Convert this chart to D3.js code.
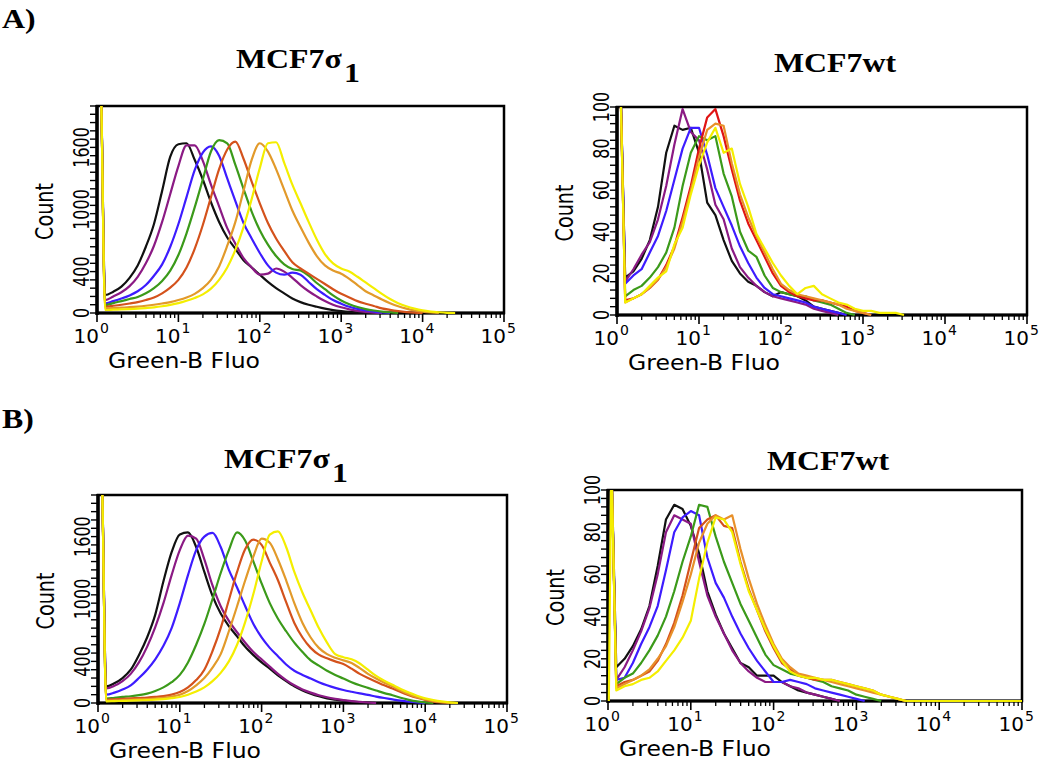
<!DOCTYPE html>
<html>
<head>
<meta charset="utf-8">
<script src="https://cdn.jsdelivr.net/npm/d3@7/dist/d3.min.js"></script>
<style>
  body { margin: 0; background: #fff; }
  svg { display: block; }
</style>
</head>
<body>
<svg id="fig" width="1050" height="763"></svg>
<script>
// log10 of Green-B fluorescence at each histogram bin
const logBins = [0.01, 0.04, 0.1, 0.2, 0.3, 0.4, 0.5, 0.6, 0.7, 0.8, 0.9, 1.0,
  1.1, 1.2, 1.3, 1.4, 1.5, 1.6, 1.7, 1.8, 1.9, 2.0, 2.1, 2.2, 2.3, 2.4, 2.5,
  2.6, 2.7, 2.8, 2.9, 3.0, 3.1, 3.2, 3.3, 3.4, 3.5, 3.6, 3.7, 3.8, 3.9, 4.0,
  4.1, 4.2, 4.3, 4.4, 4.5, 4.6, 4.7, 4.8, 4.9, 5.0];

const sigmaColors = ["#111111", "#8b1a84", "#3d1cff", "#3b9a1a", "#d4521c", "#e29a2a", "#f4ee00"];
const wtColorsA = ["#111111", "#8b1a84", "#3d1cff", "#3b9a1a", "#e01414", "#e8902a", "#f4ee00"];
const wtColorsB = ["#111111", "#8b1a84", "#3d1cff", "#3b9a1a", "#d4521c", "#e8902a", "#f4ee00"];

const sigmaTickLabels = [0, 400, 1000, 1600];
const wtTickLabels = [0, 20, 40, 60, 80, 100];
const decades = [0, 1, 2, 3, 4, 5];

// A) MCF7σ1 : black, purple, blue, green, orange-red, orange, yellow
const countsA1 = [
  [2300, 2300, 174, 206, 255, 340, 460, 640, 860, 1180, 1510, 1630, 1640, 1480, 1290, 1070, 880, 730, 620, 510, 440, 370, 300, 240, 190, 140, 105, 80, 60, 42, 28, 18, 10, 5, 2, 0],
  [2300, 2300, 125, 160, 200, 260, 350, 480, 650, 880, 1150, 1420, 1620, 1620, 1470, 1240, 1030, 820, 670, 530, 440, 370, 380, 430, 400, 340, 270, 210, 160, 115, 80, 55, 35, 20, 10, 4, 0],
  [2300, 2300, 93, 115, 140, 170, 210, 270, 360, 470, 640, 860, 1120, 1380, 1550, 1610, 1520, 1300, 1080, 870, 720, 580, 460, 390, 370, 390, 370, 300, 230, 175, 125, 90, 60, 40, 25, 14, 6, 0],
  [2300, 2300, 77, 95, 115, 135, 155, 190, 240, 310, 410, 560, 770, 1020, 1290, 1560, 1670, 1640, 1430, 1200, 980, 800, 660, 550, 470, 425, 410, 360, 290, 230, 170, 120, 85, 58, 38, 24, 14, 7, 0],
  [2300, 2300, 61, 70, 80, 92, 105, 125, 150, 190, 245, 320, 440, 620, 850, 1120, 1390, 1580, 1655, 1490, 1270, 1060, 870, 720, 600, 490, 430, 380, 330, 280, 230, 185, 150, 115, 90, 68, 45, 30, 18, 9, 3, 0],
  [2300, 2300, 45, 48, 52, 56, 62, 70, 80, 92, 105, 125, 150, 185, 240, 320, 450, 650, 880, 1180, 1480, 1640, 1560, 1390, 1190, 990, 830, 680, 550, 460, 410, 380, 330, 270, 210, 170, 130, 95, 65, 42, 25, 13, 5, 0],
  [2300, 2300, 29, 32, 35, 38, 42, 48, 55, 65, 78, 95, 118, 145, 180, 235, 320, 440, 610, 830, 1100, 1400, 1640, 1650, 1450, 1240, 1060, 880, 710, 570, 480, 430, 400, 350, 295, 240, 185, 135, 95, 65, 42, 25, 14, 7, 2, 0]
];

// A) MCF7wt : black, purple, blue, green, red, orange, yellow
const countsA2 = [
  [115, 115, 18, 21, 27, 36, 52, 78, 91, 89, 90, 78, 54, 48, 36, 26, 20, 16, 14, 11, 9, 11, 10, 9, 7, 4, 3, 2, 1, 0],
  [115, 115, 16, 22, 29, 35, 46, 62, 82, 99, 88, 84, 70, 53, 46, 32, 23, 18, 14, 11, 9, 8, 7, 6, 5, 3, 2, 1, 0],
  [115, 115, 15, 19, 22, 30, 38, 50, 65, 80, 90, 90, 77, 61, 52, 43, 33, 25, 18, 13, 10, 9, 8, 7, 6, 4, 3, 2, 1, 0],
  [115, 115, 9, 12, 14, 18, 23, 30, 42, 62, 78, 86, 84, 86, 68, 57, 40, 31, 28, 19, 13, 11, 10, 9, 9, 7, 6, 5, 3, 1, 0],
  [115, 115, 7, 8, 10, 13, 17, 24, 33, 47, 62, 80, 95, 99, 86, 70, 55, 44, 36, 28, 20, 14, 11, 9, 8, 7, 7, 6, 5, 4, 2, 1, 0],
  [115, 115, 6, 8, 10, 13, 17, 23, 32, 45, 60, 76, 89, 92, 91, 73, 58, 47, 38, 30, 22, 15, 12, 10, 9, 8, 7, 6, 5, 3, 2, 1, 0],
  [115, 115, 6, 8, 10, 14, 18, 21, 34, 42, 58, 72, 83, 90, 78, 80, 63, 52, 39, 32, 25, 19, 14, 10, 13, 14, 10, 8, 6, 5, 3, 2, 2, 1, 1, 1, 0]
];

// B) MCF7σ1
const countsB1 = [
  [2300, 2300, 160, 190, 240, 320, 460, 630, 850, 1170, 1450, 1620, 1640, 1500, 1260, 1030, 860, 740, 640, 540, 460, 390, 330, 265, 210, 160, 120, 90, 65, 45, 32, 22, 14, 8, 3, 0],
  [2300, 2300, 140, 165, 210, 280, 390, 540, 730, 960, 1230, 1470, 1610, 1580, 1380, 1130, 930, 790, 680, 580, 490, 420, 350, 280, 220, 170, 130, 100, 75, 55, 40, 28, 18, 11, 5, 0],
  [2300, 2300, 80, 100, 130, 170, 240, 320, 420, 550, 720, 960, 1230, 1470, 1600, 1635, 1500, 1280, 1110, 930, 760, 630, 530, 450, 370, 310, 270, 235, 200, 170, 145, 125, 108, 92, 78, 62, 48, 35, 22, 12, 5, 0],
  [2300, 2300, 42, 50, 58, 65, 75, 90, 115, 150, 200, 270, 390, 560, 760, 1000, 1250, 1470, 1640, 1560, 1360, 1150, 960, 810, 690, 580, 490, 410, 360, 310, 270, 235, 200, 170, 145, 120, 95, 75, 50, 30, 15, 6, 0],
  [2300, 2300, 32, 36, 40, 44, 48, 52, 58, 66, 80, 105, 150, 220, 320, 500, 720, 990, 1260, 1480, 1570, 1520, 1350, 1180, 970, 770, 630, 530, 465, 430, 400, 375, 330, 280, 240, 205, 170, 140, 105, 75, 50, 30, 14, 5, 0],
  [2300, 2300, 22, 25, 28, 31, 34, 38, 43, 50, 62, 80, 115, 170, 240, 340, 470, 690, 930, 1180, 1410, 1580, 1540, 1380, 1180, 960, 770, 630, 530, 470, 435, 410, 385, 335, 280, 235, 195, 160, 120, 85, 55, 35, 18, 8, 2, 0],
  [2300, 2300, 16, 18, 20, 22, 25, 28, 32, 38, 46, 58, 80, 110, 150, 210, 290, 400, 560, 780, 1050, 1360, 1620, 1650, 1500, 1260, 1060, 890, 720, 580, 470, 440, 420, 380, 320, 260, 215, 175, 135, 100, 70, 45, 28, 15, 6, 0]
];

// B) MCF7wt
const countsB2 = [
  [115, 115, 16, 20, 26, 34, 45, 64, 86, 93, 91, 83, 70, 52, 41, 32, 25, 18, 16, 12, 12, 12, 9, 7, 5, 4, 3, 2, 1, 0],
  [115, 115, 10, 16, 24, 33, 44, 60, 80, 88, 86, 84, 66, 50, 40, 32, 24, 18, 14, 11, 9, 9, 9, 7, 6, 4, 3, 2, 1, 0],
  [115, 115, 10, 11, 18, 27, 35, 45, 62, 80, 87, 90, 88, 68, 56, 49, 40, 32, 25, 19, 14, 9, 9, 10, 9, 8, 6, 5, 4, 3, 2, 1, 0],
  [115, 115, 8, 11, 13, 18, 24, 31, 40, 52, 66, 78, 93, 92, 78, 66, 56, 46, 38, 30, 22, 17, 15, 13, 12, 11, 10, 9, 7, 6, 5, 3, 2, 1, 0],
  [115, 115, 7, 9, 10, 12, 14, 19, 27, 37, 50, 66, 82, 86, 88, 83, 82, 66, 53, 43, 33, 25, 18, 15, 12, 11, 10, 10, 10, 9, 8, 7, 6, 5, 3, 2, 1, 0],
  [115, 115, 6, 8, 10, 12, 15, 20, 26, 35, 47, 60, 75, 84, 88, 86, 88, 72, 58, 46, 36, 27, 20, 16, 13, 12, 11, 10, 9, 8, 7, 6, 5, 4, 3, 2, 1, 0],
  [0, 115, 5, 7, 8, 10, 11, 14, 19, 24, 30, 38, 58, 75, 87, 86, 80, 65, 52, 43, 34, 26, 19, 14, 12, 11, 11, 10, 10, 9, 8, 7, 6, 5, 3, 2, 1, 0, 0, 0, 0, 0, 0, 0, 0, 0, 0, 0, 0, 0, 0, 0]
];

const panels = [
  { id: "a1", x0: 97, x1: 504, yTop: 106, yBot: 313, yMax: 2000, ticks: sigmaTickLabels,
    counts: countsA1, colors: sigmaColors, sigma: true, titleX: 298, titleY: 68, smooth: true },
  { id: "a2", x0: 617, x1: 1027, yTop: 107, yBot: 315, yMax: 100, ticks: wtTickLabels,
    counts: countsA2, colors: wtColorsA, sigma: false, titleX: 835, titleY: 72, smooth: false },
  { id: "b1", x0: 98, x1: 507, yTop: 495, yBot: 703, yMax: 2000, ticks: sigmaTickLabels,
    counts: countsB1, colors: sigmaColors, sigma: true, titleX: 286, titleY: 468, smooth: true },
  { id: "b2", x0: 608, x1: 1022, yTop: 490, yBot: 701, yMax: 100, ticks: wtTickLabels,
    counts: countsB2, colors: wtColorsB, sigma: false, titleX: 828, titleY: 470, smooth: false }
];

const sansFont = "'DejaVu Sans', Verdana, sans-serif";
const serifFont = "'Liberation Serif', 'Times New Roman', serif";

const svg = d3.select("#fig");
const defs = svg.append("defs");

// panel letters
[["A)", 28], ["B)", 428]].forEach(([label, y]) => {
  svg.append("text")
    .attr("transform", `translate(2,${y}) scale(1.18,1)`)
    .attr("font-family", serifFont)
    .attr("font-weight", "bold")
    .attr("font-size", 27)
    .text(label);
});

panels.forEach((p) => {
  const g = svg.append("g").attr("class", "panel-" + p.id);

  const x = d3.scaleLog().domain([1, 1e5]).range([p.x0, p.x1]);
  const y = d3.scaleLinear().domain([0, p.yMax]).range([p.yBot, p.yTop]);

  // title
  const title = g.append("text")
    .attr("transform", `translate(${p.titleX},${p.titleY}) scale(1.18,1)`)
    .attr("text-anchor", "middle")
    .attr("font-family", serifFont)
    .attr("font-weight", "bold")
    .attr("font-size", 27);
  if (p.sigma) {
    title.append("tspan").text("MCF7σ");
    title.append("tspan").attr("dx", 2).attr("dy", 14).text("1");
  } else {
    title.text("MCF7wt");
  }

  // frame
  g.append("rect")
    .attr("x", p.x0).attr("y", p.yTop)
    .attr("width", p.x1 - p.x0).attr("height", p.yBot - p.yTop)
    .attr("fill", "none").attr("stroke", "#000").attr("stroke-width", 2.5);
  g.append("line")
    .attr("x1", p.x0).attr("x2", p.x0).attr("y1", p.yTop - 1).attr("y2", p.yBot + 2)
    .attr("stroke", "#000").attr("stroke-width", 3.5);
  g.append("line")
    .attr("x1", p.x0).attr("x2", p.x1 + 1).attr("y1", p.yBot).attr("y2", p.yBot)
    .attr("stroke", "#000").attr("stroke-width", 3);

  // y minor ticks: 25 divisions
  const yStep = p.yMax / 25;
  const yTickVals = d3.range(0, 26).map((i) => i * yStep);
  g.selectAll(".ytick").data(yTickVals).enter().append("line")
    .attr("x1", p.x0 - 7).attr("x2", p.x0)
    .attr("y1", (d) => y(d)).attr("y2", (d) => y(d))
    .attr("stroke", "#000").attr("stroke-width", 1.4);

  // y labels (rotated, condensed)
  g.selectAll(".ylab").data(p.ticks).enter().append("text")
    .attr("transform", (d) => `translate(${p.x0 - 8},${y(d)}) rotate(-90) scale(0.76,1)`)
    .attr("text-anchor", "middle")
    .attr("font-family", sansFont)
    .attr("font-size", 21)
    .text((d) => d);

  g.append("text")
    .attr("transform", `translate(${p.x0 - 44},${(p.yTop + p.yBot) / 2 + 2}) rotate(-90) scale(0.8,1)`)
    .attr("text-anchor", "middle")
    .attr("font-family", sansFont)
    .attr("font-size", 24)
    .text("Count");

  // x ticks: decades + 2..9 minor
  const minor = [];
  decades.slice(0, 5).forEach((d) => {
    for (let m = 2; m <= 9; m++) minor.push(m * Math.pow(10, d));
  });
  g.selectAll(".xminor").data(minor).enter().append("line")
    .attr("x1", (d) => x(d)).attr("x2", (d) => x(d))
    .attr("y1", p.yBot).attr("y2", p.yBot + 5)
    .attr("stroke", "#000").attr("stroke-width", 1.3);
  g.selectAll(".xmajor").data(decades).enter().append("line")
    .attr("x1", (d) => x(Math.pow(10, d))).attr("x2", (d) => x(Math.pow(10, d)))
    .attr("y1", p.yBot).attr("y2", p.yBot + 9)
    .attr("stroke", "#000").attr("stroke-width", 1.6);

  g.selectAll(".xlab").data(decades).enter().append("text")
    .attr("x", (d) => x(Math.pow(10, d)) + 2)
    .attr("y", p.yBot + 30)
    .attr("text-anchor", "end")
    .attr("font-family", sansFont)
    .attr("font-size", 20)
    .text("10");
  g.selectAll(".xexp").data(decades).enter().append("text")
    .attr("x", (d) => x(Math.pow(10, d)) + 3)
    .attr("y", p.yBot + 20)
    .attr("font-family", sansFont)
    .attr("font-size", 14)
    .text((d) => d);

  g.append("text")
    .attr("x", p.x0 + 11)
    .attr("y", p.yBot + 55)
    .attr("font-family", sansFont)
    .attr("font-size", 21)
    .attr("textLength", 152)
    .attr("lengthAdjust", "spacingAndGlyphs")
    .text("Green-B Fluo");

  // histograms
  const clipId = "clip-" + p.id;
  defs.append("clipPath").attr("id", clipId).append("rect")
    .attr("x", p.x0 - 1).attr("y", p.yTop)
    .attr("width", p.x1 - p.x0 + 1).attr("height", p.yBot - p.yTop + 1.5);

  const line = d3.line()
    .x((d) => x(Math.pow(10, d[0])))
    .y((d) => y(d[1]))
    .curve(p.smooth ? d3.curveMonotoneX : d3.curveLinear);

  const curves = g.append("g").attr("clip-path", `url(#${clipId})`);
  p.counts.forEach((vals, i) => {
    const pts = vals.map((v, k) => [logBins[k], v]);
    curves.append("path")
      .attr("d", line(pts))
      .attr("fill", "none")
      .attr("stroke", p.colors[i])
      .attr("stroke-width", 2.2)
      .attr("stroke-linejoin", "round");
  });
});
</script>
</body>
</html>
